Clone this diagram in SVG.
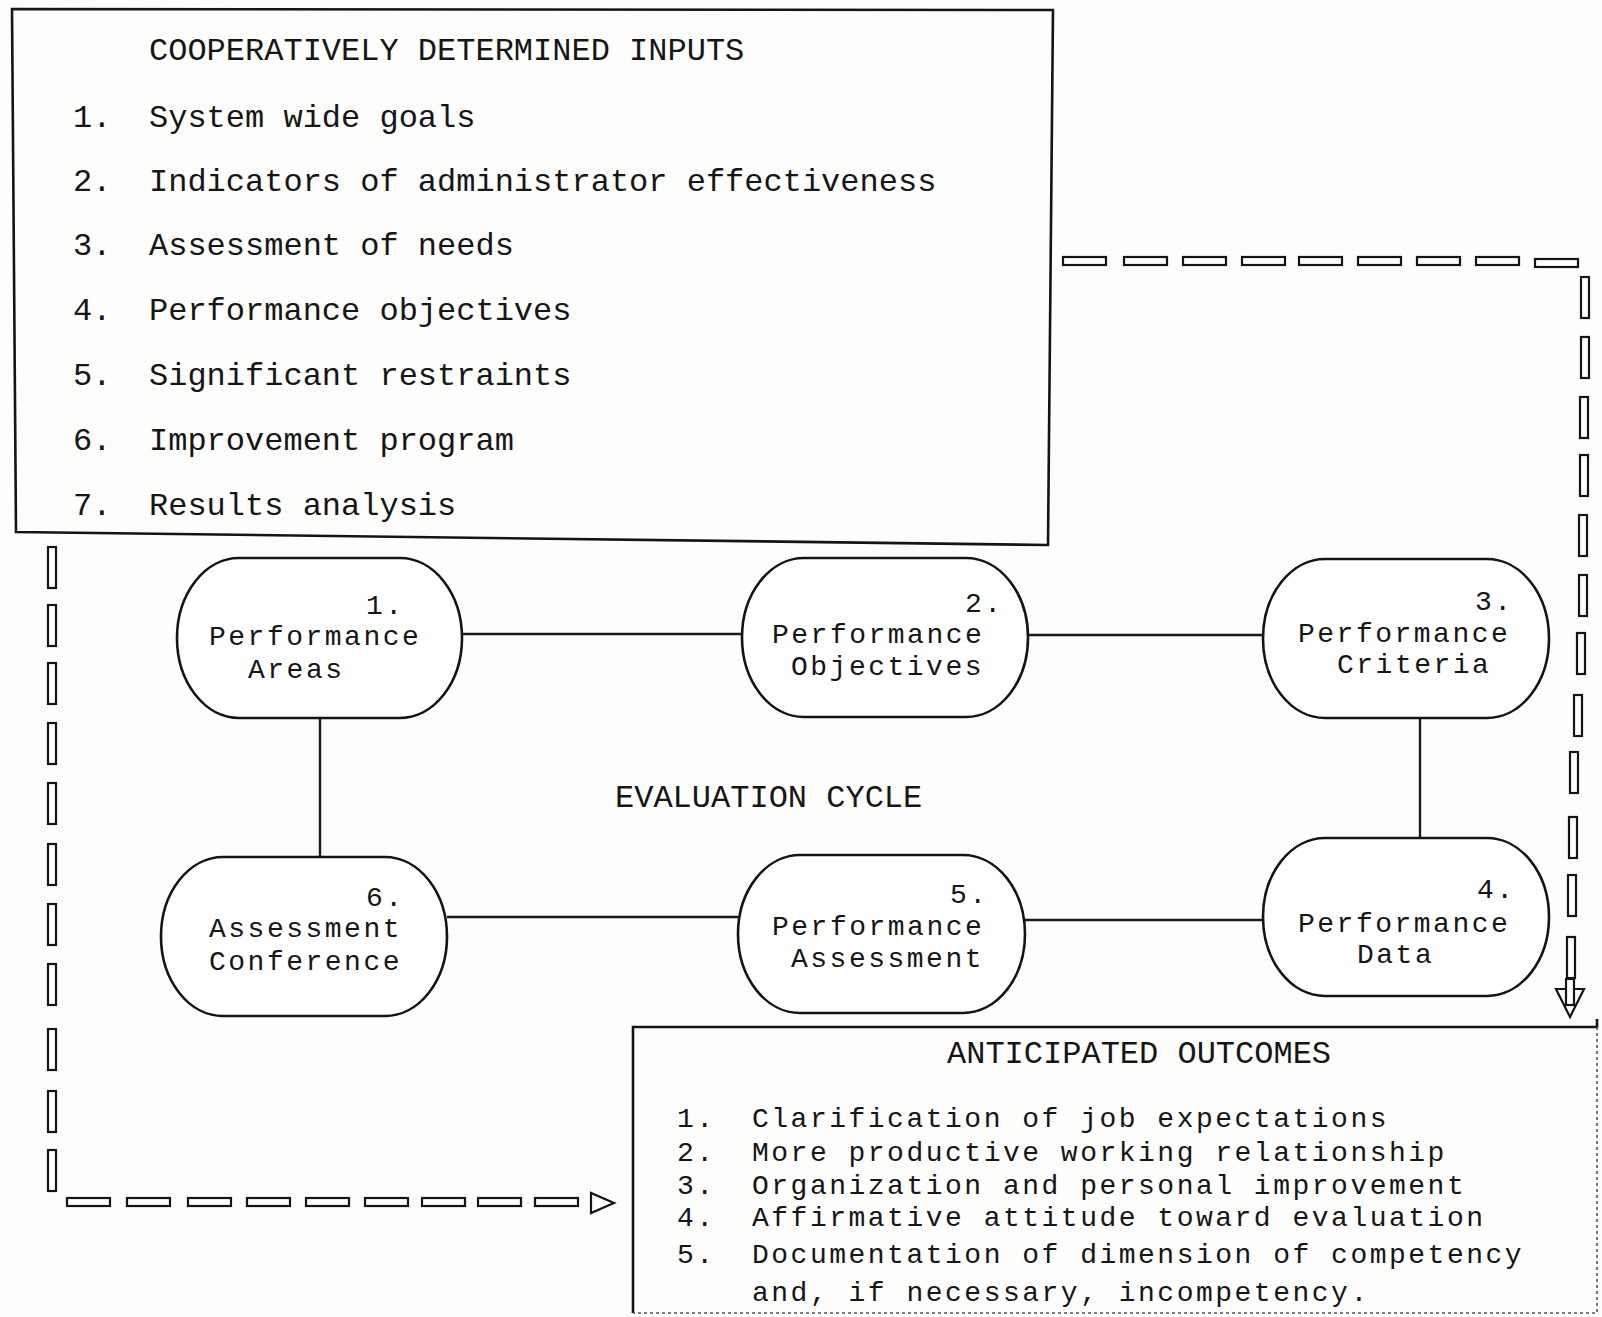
<svg xmlns="http://www.w3.org/2000/svg" xmlns:xlink="http://www.w3.org/1999/xlink" width="1602" height="1317" viewBox="0 0 1602 1317">
<defs>
<style>
.box{fill:none;stroke:#141414;stroke-width:2.6}
.edge{fill:none;stroke:#1a1a1a;stroke-width:2.4}
.node{fill:#fff;stroke:#141414;stroke-width:2.6}
.t{font-family:"Liberation Mono","Courier New",monospace;font-size:32px;fill:#161616}
.s{font-family:"Liberation Mono","Courier New",monospace;font-size:28px;letter-spacing:2.5px;fill:#161616}
.d{fill:#fff;stroke:#141414;stroke-width:2.2}
.faint{fill:none;stroke:#555;stroke-width:1.6;stroke-dasharray:3 3}
</style>
<rect id="hd" class="d" x="0" y="0" width="43" height="8"/>
<rect id="vd" class="d" x="-4" y="0" width="8" height="41"/>
</defs>
<rect x="0" y="0" width="1602" height="1317" fill="#fdfdfc"/>

<g id="inputs-box">
<path class="box" d="M12,9 L1053,10 L1048,545 L16,532 Z"/>
<text class="t" x="149" y="60">COOPERATIVELY DETERMINED INPUTS</text>
<text class="t" x="73" y="127">1.</text><text class="t" x="149" y="127">System wide goals</text>
<text class="t" x="73" y="191">2.</text><text class="t" x="149" y="191">Indicators of administrator effectiveness</text>
<text class="t" x="73" y="255">3.</text><text class="t" x="149" y="255">Assessment of needs</text>
<text class="t" x="73" y="320">4.</text><text class="t" x="149" y="320">Performance objectives</text>
<text class="t" x="73" y="385">5.</text><text class="t" x="149" y="385">Significant restraints</text>
<text class="t" x="73" y="450">6.</text><text class="t" x="149" y="450">Improvement program</text>
<text class="t" x="73" y="515">7.</text><text class="t" x="149" y="515">Results analysis</text>
</g>

<g id="connectors">
<line class="edge" x1="462" y1="634" x2="742" y2="634"/>
<line class="edge" x1="1028" y1="635" x2="1263" y2="635"/>
<line class="edge" x1="1420" y1="718" x2="1420" y2="838"/>
<line class="edge" x1="1025" y1="920" x2="1263" y2="920"/>
<line class="edge" x1="447" y1="917" x2="738" y2="917"/>
<line class="edge" x1="320" y1="718" x2="320" y2="857"/>
</g>

<g id="feedback-top-right">
<use xlink:href="#hd" x="1063" y="257"/>
<use xlink:href="#hd" x="1124" y="257"/>
<use xlink:href="#hd" x="1183" y="257"/>
<use xlink:href="#hd" x="1242" y="257"/>
<use xlink:href="#hd" x="1299" y="257"/>
<use xlink:href="#hd" x="1358" y="257"/>
<use xlink:href="#hd" x="1417" y="257"/>
<use xlink:href="#hd" x="1476" y="257"/>
<use xlink:href="#hd" x="1535" y="259"/>
<use xlink:href="#vd" x="1585" y="277"/>
<use xlink:href="#vd" x="1585" y="337"/>
<use xlink:href="#vd" x="1584" y="397"/>
<use xlink:href="#vd" x="1584" y="455"/>
<use xlink:href="#vd" x="1583" y="515"/>
<use xlink:href="#vd" x="1583" y="575"/>
<use xlink:href="#vd" x="1581" y="633"/>
<use xlink:href="#vd" x="1578" y="695"/>
<use xlink:href="#vd" x="1574" y="752"/>
<use xlink:href="#vd" x="1573" y="817"/>
<use xlink:href="#vd" x="1572" y="875"/>
<use xlink:href="#vd" x="1571" y="937"/>
<path class="d" d="M1556,989 L1584,989 L1570,1017 Z"/>
<rect class="d" x="1566" y="979" width="8" height="26"/>
</g>

<g id="feedback-bottom-left">
<use xlink:href="#vd" x="52" y="547"/>
<use xlink:href="#vd" x="52" y="605"/>
<use xlink:href="#vd" x="52" y="663"/>
<use xlink:href="#vd" x="52" y="723"/>
<use xlink:href="#vd" x="52" y="783"/>
<use xlink:href="#vd" x="52" y="844"/>
<use xlink:href="#vd" x="52" y="904"/>
<use xlink:href="#vd" x="52" y="964"/>
<use xlink:href="#vd" x="52" y="1029"/>
<use xlink:href="#vd" x="52" y="1091"/>
<use xlink:href="#vd" x="52" y="1150"/>
<use xlink:href="#hd" x="67" y="1198"/>
<use xlink:href="#hd" x="127" y="1198"/>
<use xlink:href="#hd" x="188" y="1198"/>
<use xlink:href="#hd" x="247" y="1198"/>
<use xlink:href="#hd" x="306" y="1198"/>
<use xlink:href="#hd" x="365" y="1198"/>
<use xlink:href="#hd" x="422" y="1198"/>
<use xlink:href="#hd" x="478" y="1198"/>
<use xlink:href="#hd" x="535" y="1198"/>
<path class="d" d="M591,1193 L591,1213 L614,1203 Z"/>
</g>

<g id="node1">
<rect class="node" x="177" y="558" width="285" height="160" rx="62" ry="80"/>
<text class="s" x="366" y="614">1.</text>
<text class="s" x="209" y="645">Performance</text>
<text class="s" x="248" y="678">Areas</text>
</g>
<g id="node2">
<rect class="node" x="742" y="558" width="286" height="159" rx="62" ry="79.5"/>
<text class="s" x="965" y="612">2.</text>
<text class="s" x="772" y="643">Performance</text>
<text class="s" x="791" y="675">Objectives</text>
</g>
<g id="node3">
<rect class="node" x="1263" y="559" width="286" height="159" rx="62" ry="79.5"/>
<text class="s" x="1475" y="610">3.</text>
<text class="s" x="1298" y="642">Performance</text>
<text class="s" x="1337" y="673">Criteria</text>
</g>
<g id="node4">
<rect class="node" x="1263" y="838" width="286" height="158" rx="62" ry="79"/>
<text class="s" x="1477" y="898">4.</text>
<text class="s" x="1298" y="932">Performance</text>
<text class="s" x="1357" y="963">Data</text>
</g>
<g id="node5">
<rect class="node" x="738" y="855" width="287" height="158" rx="62" ry="79"/>
<text class="s" x="950" y="903">5.</text>
<text class="s" x="772" y="935">Performance</text>
<text class="s" x="791" y="967">Assessment</text>
</g>
<g id="node6">
<rect class="node" x="161" y="857" width="286" height="159" rx="62" ry="79.5"/>
<text class="s" x="366" y="906">6.</text>
<text class="s" x="209" y="937">Assessment</text>
<text class="s" x="209" y="970">Conference</text>
</g>

<g id="cycle-label">
<text class="t" x="615" y="807">EVALUATION CYCLE</text>
</g>

<g id="outcomes-box">
<path class="box" d="M633,1313 L633,1027 L1597,1027 L1597,1019"/>
<path class="faint" d="M1597,1027 L1597,1313 L633,1313"/>
<text class="t" x="947" y="1063">ANTICIPATED OUTCOMES</text>
<text class="s" x="677" y="1127">1.</text><text class="s" x="752" y="1127">Clarification of job expectations</text>
<text class="s" x="677" y="1161">2.</text><text class="s" x="752" y="1161">More productive working relationship</text>
<text class="s" x="677" y="1194">3.</text><text class="s" x="752" y="1194">Organization and personal improvement</text>
<text class="s" x="677" y="1226">4.</text><text class="s" x="752" y="1226">Affirmative attitude toward evaluation</text>
<text class="s" x="677" y="1263">5.</text><text class="s" x="752" y="1263">Documentation of dimension of competency</text>
<text class="s" x="752" y="1301">and, if necessary, incompetency.</text>
</g>
</svg>
